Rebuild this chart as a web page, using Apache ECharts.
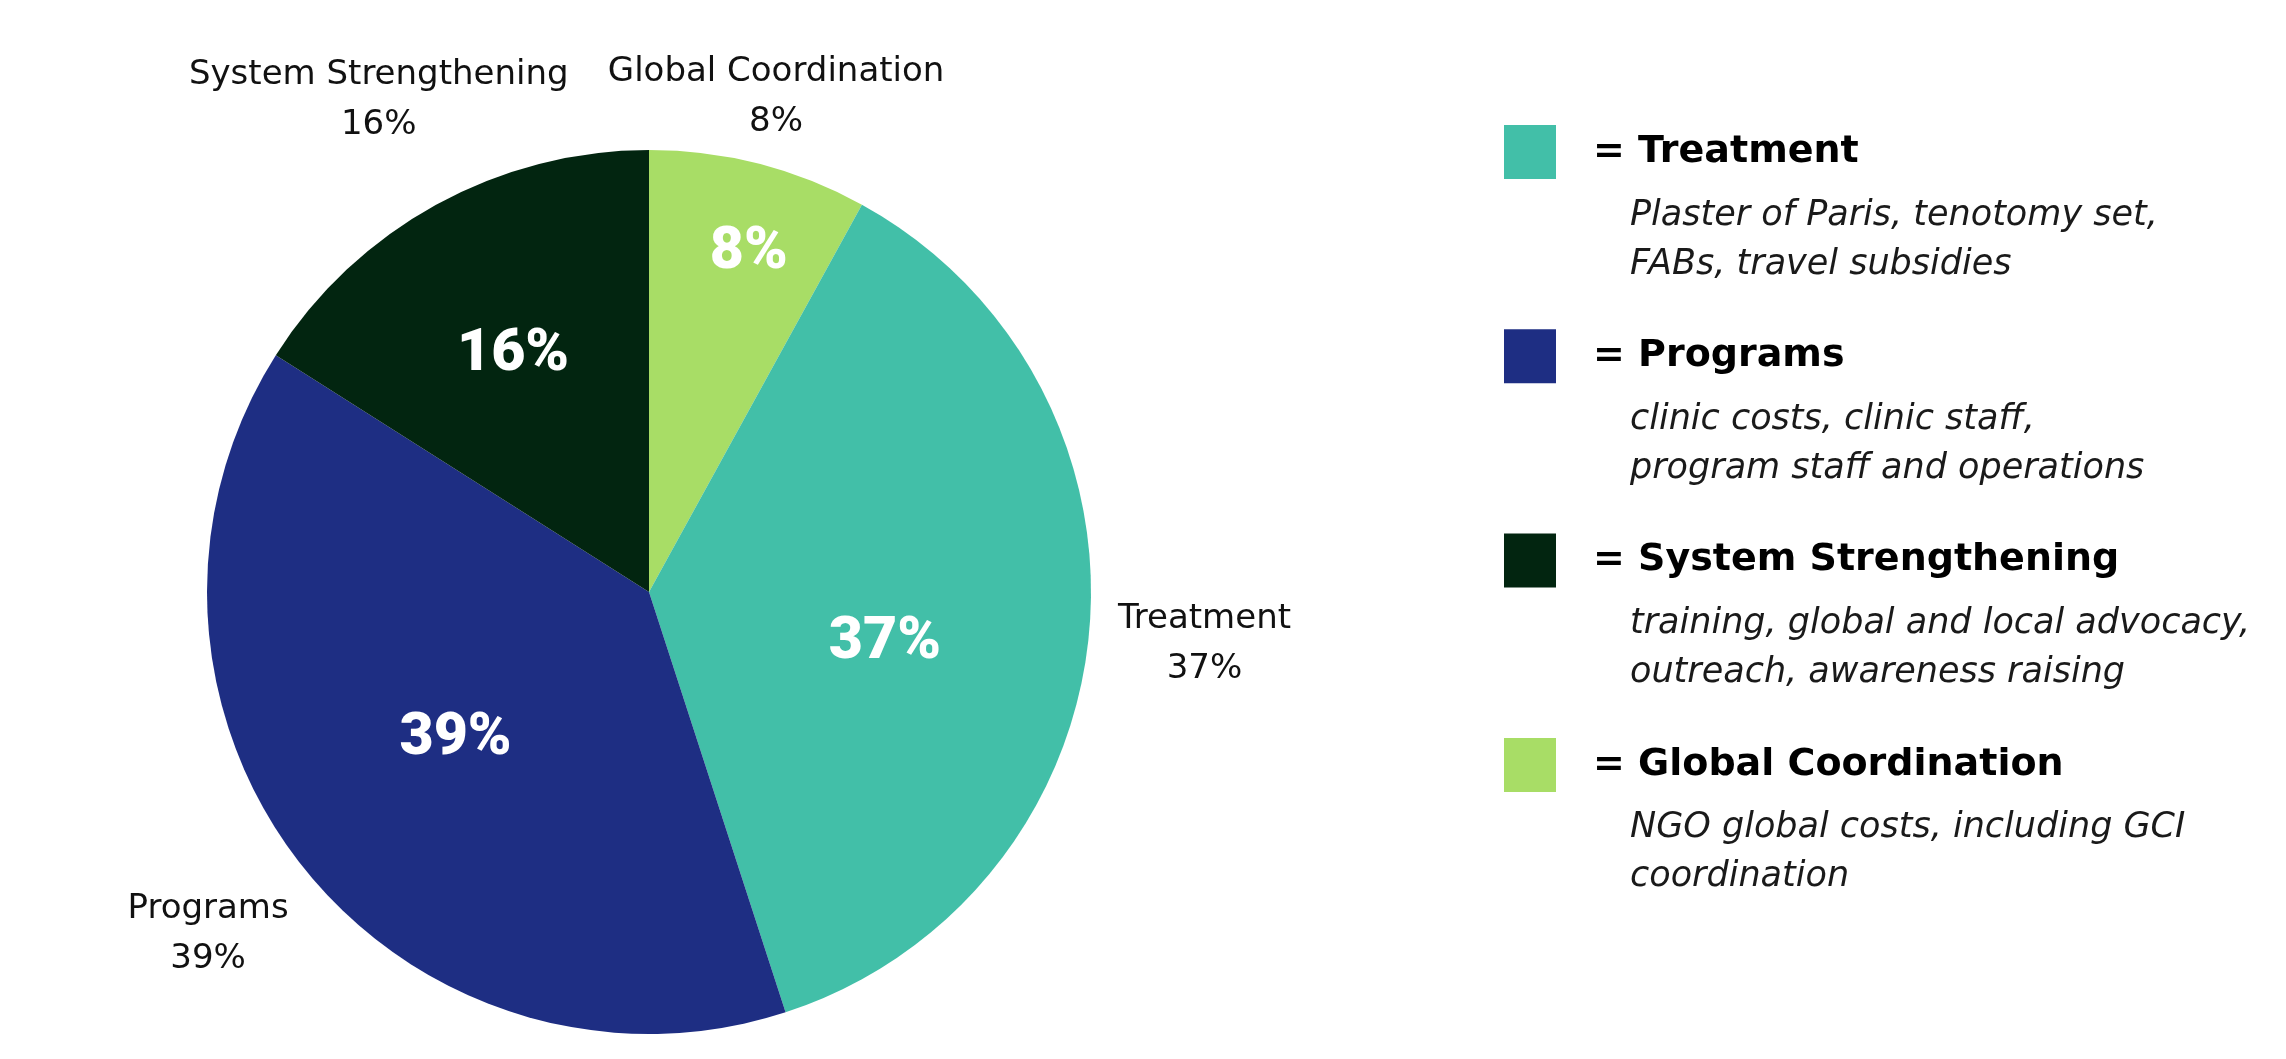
<!DOCTYPE html>
<html><head><meta charset="utf-8">
<script src="https://cdn.jsdelivr.net/npm/echarts@6/dist/echarts.min.js"></script>
<style>html,body{margin:0;padding:0;background:#fff;} #chart{width:2286px;height:1059px;}</style>
</head><body><div id="chart"></div>
<script>
// ---- data ----
const categories = ['Global Coordination', 'Treatment', 'Programs', 'System Strengthening'];
const shares = [8, 37, 39, 16];
const sliceColors = ['#A8DD66', '#42BFA8', '#1E2E83', '#022510'];
const legendOrder = ['Treatment', 'Programs', 'System Strengthening', 'Global Coordination'];
const legendNotes = [
  'Plaster of Paris, tenotomy set,\nFABs, travel subsidies',
  'clinic costs, clinic staff,\nprogram staff and operations',
  'training, global and local advocacy,\noutreach, awareness raising',
  'NGO global costs, including GCI\ncoordination'
];

// ---- layout (same order as categories) ----
const CX = 649, CY = 592, R = 442;
const innerLabelDist = [354, 238, 238, 273];
const innerLabelOffset = [[11, 7], [-4, 29], [-3, 0], [-3, 5]];
const outerLabelDist = [508, 555, 555, 558];
const LEG_LEFT = 1504, LEG_TOP = 125, LEG_STEP = 204.3, ICON_W = 52, ICON_H = 54;

function labelSeries(idx, dist, labelOpts) {
  return {
    type: 'pie', center: [CX, CY], radius: [dist - 1, dist + 1],
    startAngle: 90, clockwise: true, silent: true, avoidLabelOverlap: false,
    animation: false,
    itemStyle: { color: 'rgba(0,0,0,0)', borderWidth: 0 },
    labelLine: { show: false },
    emphasis: { disabled: true },
    label: Object.assign({ show: true, position: 'inside', overflow: 'none' }, labelOpts),
    data: categories.map((n, i) => ({ name: n, value: shares[i], label: { show: i === idx } }))
  };
}

const innerStyle = { formatter: '{c}%', fontFamily: 'Roboto', fontWeight: 900, fontSize: 59, color: '#ffffff' };
const outerStyle = { formatter: '{b}\n{c}%', fontFamily: 'DejaVu Sans', fontWeight: 'normal', fontSize: 34, lineHeight: 50, color: '#111111' };

const series = [{
  type: 'pie', center: [CX, CY], radius: R, startAngle: 90, clockwise: true,
  silent: true, animation: false,
  label: { show: false }, labelLine: { show: false },
  emphasis: { disabled: true },
  data: categories.map((n, i) => ({ name: n, value: shares[i], itemStyle: { color: sliceColors[i] } }))
}];
categories.forEach((n, i) => {
  series.push(labelSeries(i, innerLabelDist[i], Object.assign({ offset: innerLabelOffset[i] }, innerStyle)));
  series.push(labelSeries(i, outerLabelDist[i], outerStyle));
});

const chart = echarts.init(document.getElementById('chart'));
chart.setOption({
  backgroundColor: '#ffffff',
  animation: false,
  legend: {
    orient: 'vertical', left: LEG_LEFT, top: LEG_TOP, padding: 0,
    itemWidth: ICON_W, itemHeight: ICON_H, itemGap: LEG_STEP - ICON_H,
    icon: 'rect', selectedMode: false,
    data: legendOrder,
    formatter: n => '= ' + n,
    textStyle: { fontFamily: 'DejaVu Sans', fontWeight: 'bold', fontSize: 38, color: '#000000', padding: [0, 0, 0, 32] }
  },
  title: legendNotes.map((t, i) => ({
    text: t, left: 1630, top: LEG_TOP + 66 + i * LEG_STEP, padding: 0,
    textStyle: { fontFamily: 'DejaVu Sans', fontStyle: 'italic', fontWeight: 'normal', fontSize: 35, lineHeight: 49, color: '#1a1a1a' }
  })),
  series: series
});
</script></body></html>
